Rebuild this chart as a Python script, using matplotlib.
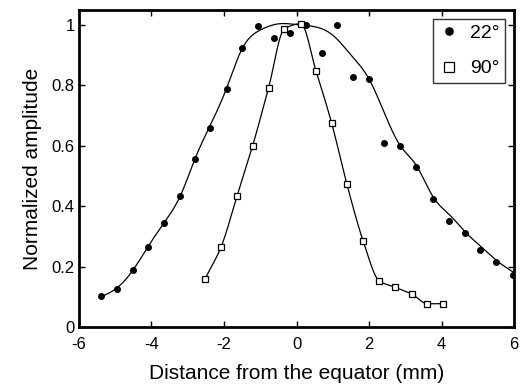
"""
Normalized amplitude vs distance from the equator, 22 and 90 degrees
"""

import matplotlib
matplotlib.use('Agg')
import matplotlib.pyplot as plt
import numpy as np
from matplotlib.ticker import FormatStrFormatter

plt.rcParams.update({
    'font.family': ['Liberation Sans', 'DejaVu Sans'],
    'font.size': 12,
    'axes.unicode_minus': False,
})

# 22 deg measurements (filled circles)
x22 = [-5.40, -4.95, -4.51, -4.09, -3.65, -3.21, -2.80, -2.38, -1.93, -1.50, -1.05,
       -0.62, -0.18, 0.26, 0.69, 1.11, 1.55, 1.99, 2.42, 2.86, 3.31, 3.77, 4.21,
       4.65, 5.05, 5.51, 5.96]
y22 = [0.103, 0.127, 0.190, 0.265, 0.343, 0.433, 0.555, 0.659, 0.787, 0.923, 0.996,
       0.954, 0.971, 1.000, 0.907, 1.000, 0.827, 0.819, 0.610, 0.600, 0.530, 0.423,
       0.349, 0.311, 0.255, 0.215, 0.172]

# 22 deg fitted curve
fit22_x = [-5.4, -5.0, -4.5, -4.1, -3.65, -3.2, -2.8, -2.4, -1.95, -1.5, -1.0, -0.45,
           0.0, 0.5, 1.0, 1.5, 2.0, 2.86, 3.3, 3.77, 4.23, 4.69, 5.1, 5.52, 6.0]
fit22_y = [0.10, 0.125, 0.19, 0.265, 0.345, 0.435, 0.556, 0.662, 0.783, 0.92, 0.982,
           1.003, 1.0, 0.993, 0.965, 0.90, 0.82, 0.60, 0.535, 0.43, 0.37, 0.31,
           0.265, 0.22, 0.18]

# 90 deg measurements (open squares)
x90 = [-2.52, -2.08, -1.64, -1.21, -0.77, -0.34, 0.12, 0.54, 0.97, 1.39, 1.84,
       2.28, 2.73, 3.18, 3.61, 4.04]
y90 = [0.160, 0.265, 0.433, 0.599, 0.791, 0.985, 1.003, 0.846, 0.674, 0.472, 0.284,
       0.153, 0.131, 0.109, 0.077, 0.077]


def natural_spline(xk, yk, n=400):
    xk = np.asarray(xk, float)
    yk = np.asarray(yk, float)
    m = len(xk)
    h = np.diff(xk)
    A = np.zeros((m, m))
    b = np.zeros(m)
    A[0, 0] = A[-1, -1] = 1.0
    for i in range(1, m - 1):
        A[i, i - 1] = h[i - 1]
        A[i, i] = 2 * (h[i - 1] + h[i])
        A[i, i + 1] = h[i]
        b[i] = 6 * ((yk[i + 1] - yk[i]) / h[i] - (yk[i] - yk[i - 1]) / h[i - 1])
    M = np.linalg.solve(A, b)
    xs = np.linspace(xk[0], xk[-1], n)
    idx = np.clip(np.searchsorted(xk, xs) - 1, 0, m - 2)
    x0, x1 = xk[idx], xk[idx + 1]
    hh = x1 - x0
    t0, t1 = x1 - xs, xs - x0
    ys = (M[idx] * t0**3 + M[idx + 1] * t1**3) / (6 * hh) \
        + (yk[idx] / hh - M[idx] * hh / 6) * t0 \
        + (yk[idx + 1] / hh - M[idx + 1] * hh / 6) * t1
    return xs, ys


def pchip(xk, yk, n=400):
    # monotone piecewise cubic (Fritsch-Carlson)
    xk = np.asarray(xk, float)
    yk = np.asarray(yk, float)
    h = np.diff(xk)
    d = np.diff(yk) / h
    m = np.zeros_like(yk)
    for i in range(1, len(xk) - 1):
        if d[i - 1] * d[i] > 0:
            w1 = 2 * h[i] + h[i - 1]
            w2 = h[i] + 2 * h[i - 1]
            m[i] = (w1 + w2) / (w1 / d[i - 1] + w2 / d[i])
    m[0] = d[0]
    m[-1] = d[-1]
    xs = np.linspace(xk[0], xk[-1], n)
    idx = np.clip(np.searchsorted(xk, xs) - 1, 0, len(xk) - 2)
    hh = h[idx]
    t = (xs - xk[idx]) / hh
    h00 = 2 * t**3 - 3 * t**2 + 1
    h10 = t**3 - 2 * t**2 + t
    h01 = -2 * t**3 + 3 * t**2
    h11 = t**3 - t**2
    ys = h00 * yk[idx] + h10 * hh * m[idx] + h01 * yk[idx + 1] + h11 * hh * m[idx + 1]
    return xs, ys


fig = plt.figure(figsize=(5.21, 3.87), dpi=100)
ax = fig.add_axes([0.1516, 0.155, 0.835, 0.819])

sx, sy = natural_spline(fit22_x, fit22_y)
ax.plot(sx, sy, color='black', linewidth=0.9)
sx, sy = pchip(x90, y90)
ax.plot(sx, sy, color='black', linewidth=0.9)

ax.plot(x22, y22, 'o', color='black', markersize=4, label='22°')
ax.plot(x90, y90, 's', markerfacecolor='white', markeredgecolor='black',
        markeredgewidth=0.9, markersize=5, label='90°')

ax.set_xlim(-6, 6)
ax.set_ylim(0, 1.048)
ax.set_xticks(np.arange(-6, 7, 2))
ax.set_yticks([0, 0.2, 0.4, 0.6, 0.8, 1])
ax.xaxis.set_major_formatter(FormatStrFormatter('%g'))
ax.yaxis.set_major_formatter(FormatStrFormatter('%g'))
ax.tick_params(direction='in', top=True, right=True, length=4, width=1,
               labelsize=12)
ax.tick_params(axis='x', pad=7)
ax.tick_params(axis='y', pad=3)
for s in ax.spines.values():
    s.set_linewidth(2)

ax.set_xlabel('Distance from the equator (mm)', fontsize=15, labelpad=9)
ax.set_ylabel('Normalized amplitude', fontsize=15, labelpad=7)

leg = ax.legend(loc='upper right', fontsize=14, frameon=True, fancybox=False,
                edgecolor='black', handlelength=1.0, handletextpad=0.6,
                borderpad=0.3, borderaxespad=0.45, labelspacing=0.9,
                markerscale=1.3)
leg.get_frame().set_linewidth(1)

fig.savefig('out.png', dpi=100)
plt.close()
